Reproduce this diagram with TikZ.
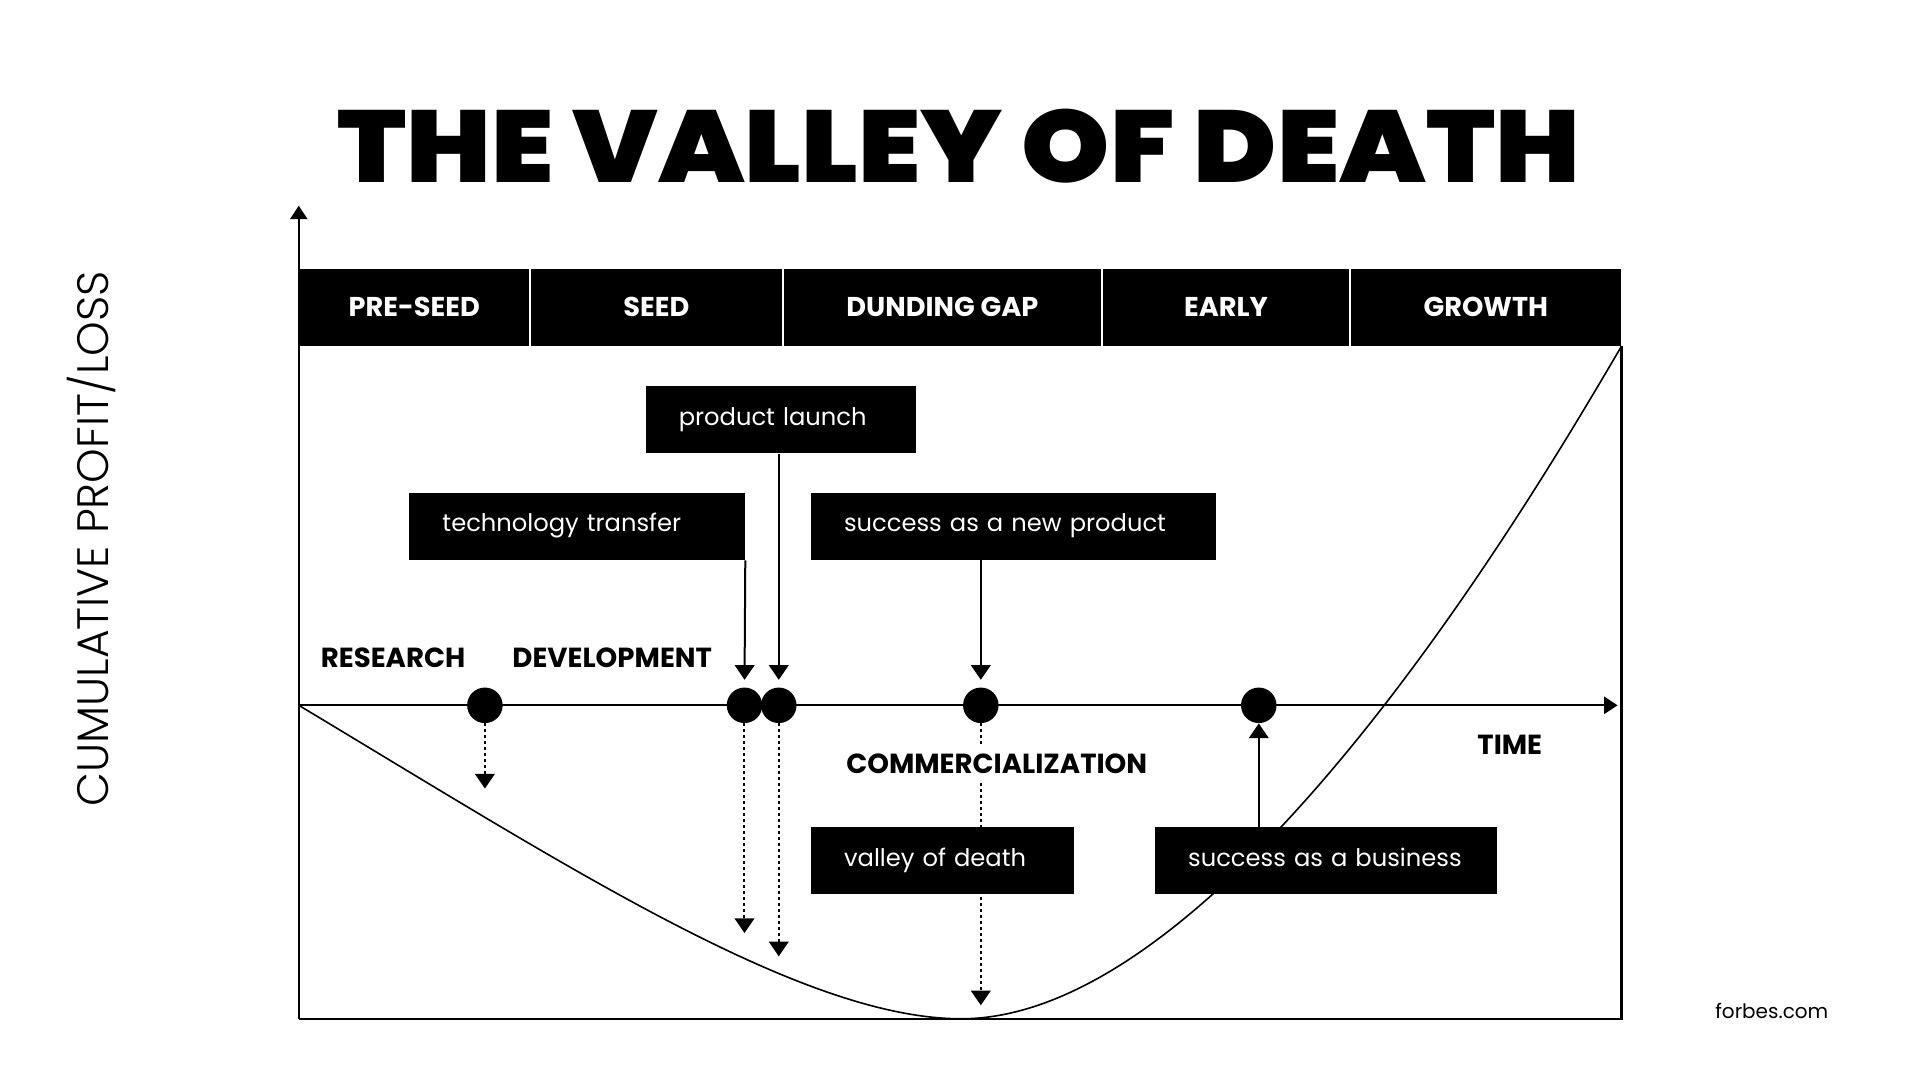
\documentclass[tikz,border=0pt]{standalone}
\usepackage{fontspec}
\setmainfont{Poppins}
\newfontfamily\titlefont{Poppins Black}[FakeStretch=1.1]
\newfontfamily\lightfont{Poppins Light}
\usetikzlibrary{arrows.meta}
\def\px{0.6122pt}
\tikzset{
  stage/.style={fill=black,text=white,font=\bfseries\fontsize{13.6}{15}\selectfont,minimum height=63*\px,inner sep=0pt,anchor=north west},
  tag/.style={fill=black,text=white,font=\fontsize{12.1}{14}\selectfont,minimum height=55*\px,inner xsep=27*\px,inner ysep=0pt,text height=0.8em,text depth=0.25em,align=left,anchor=north west},
  phase/.style={font=\bfseries\fontsize{13.8}{15}\selectfont},
  dot/.style={circle,fill=black,minimum size=29*\px,inner sep=0pt},
  axis/.style={line width=1.1pt,-{Stealth[inset=0pt,length=11*\px,width=14*\px]}},
  pointer/.style={line width=1pt,-{Stealth[inset=0pt,length=12*\px,width=16*\px]}},
  hint/.style={pointer,dash pattern=on 1.4pt off 1.6pt},
}
\begin{document}
\begin{tikzpicture}[x=0.6122pt,y=-0.6122pt]
\useasboundingbox[fill=white] (0,0) rectangle (1568,882);

\node[font=\titlefont\fontsize{51}{51}\selectfont] (title) at (783,119) {THE VALLEY OF DEATH};

% stages
\node[stage,minimum width=188*\px] (S1) at (244,219) {PRE-SEED};
\node[stage,minimum width=206*\px] (S2) at (S1.north east) {SEED};
\node[stage,minimum width=260*\px] (S3) at (S2.north east) {DUNDING GAP};
\node[stage,minimum width=202*\px] (S4) at (S3.north east) {EARLY};
\node[stage,minimum width=221*\px] (S5) at (S4.north east) {GROWTH};
\foreach \s in {S1,S2,S3,S4}
  \draw[white,line width=1pt] (\s.north east) -- (\s.south east);

% axes
\coordinate (O) at (244,576);
\coordinate (B) at (244,832);
\coordinate (T) at (244,168);
\coordinate (E) at (1321,576);
\draw[axis] (B) -- (T);
\draw[line width=1.1pt] (B) -- (B -| S5.south east) -- (S5.south east);
\draw[axis] (O) -- (E);

% the curve
\draw[line width=0.8pt] (O) .. controls (464,708) and (655,832) .. (785,832)
  .. controls (1005,832) and (1261,390) .. (S5.south east);

\node[dot] (D1) at (396,576) {};
\node[dot] (D2) at (608,576) {};
\node[dot] (D3) at (636,576) {};
\node[dot] (D4) at (801,576) {};
\node[dot] (D5) at (1028,576) {};

\coordinate (e1) at (396,644);
\coordinate (e2) at (608,762);
\coordinate (e3) at (636,781);
\coordinate (e4) at (801,821);
\draw[hint] (D1.south) -- (e1);
\draw[hint] (D2.south) -- (e2);
\draw[hint] (D3.south) -- (e3);
\draw[hint] (D4.south) -- (e4);

\node[phase] (R) at (321,537) {RESEARCH};
\node[phase] (Dv) at (500,537) {DEVELOPMENT};
\node[phase,fill=white] (Cm) at (814,624) {COMMERCIALIZATION};
\node[phase] (Tm) at (1233,608) {TIME};

% boxes
\node[tag,text width=167*\px] (PL) at (527,315) {product launch};
\node[tag,text width=220*\px] (TT) at (334,402) {technology transfer};
\node[tag,text width=277*\px] (SP) at (662,402) {success as a new product};
\node[tag,text width=161*\px] (VD) at (662,675) {valley of death};
\node[tag,text width=225*\px] (SB) at (943,675) {success as a business};

\draw[pointer,shorten >=6*\px] (TT.south east) -- (D2.north);
\draw[pointer,shorten >=6*\px] (PL.south -| D3) -- (D3.north);
\draw[pointer,shorten >=6*\px] (SP.south -| D4) -- (D4.north);
\draw[pointer] (SB.north -| D5) -- (D5.south);

\node[rotate=90,font=\lightfont\fontsize{22}{24}\selectfont] (ylab) at (75,440) {CUMULATIVE PROFIT/LOSS};
\node[font=\fontsize{10}{12}\selectfont] (src) at (1447,826) {forbes.com};
\end{tikzpicture}
\end{document}
